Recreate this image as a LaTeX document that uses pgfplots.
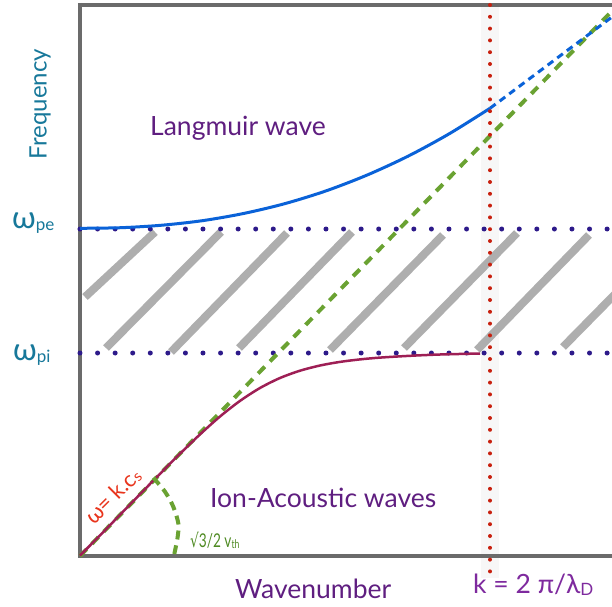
\documentclass[border=0pt]{standalone}
\usepackage{pgfplots}
\pgfplotsset{compat=1.18}
\usepackage{fontspec}
\setmainfont{Lato}
\newfontfamily\djv{DejaVu Sans}
\definecolor{framec}{HTML}{6B6B6B}
\definecolor{hatchc}{HTML}{AEAEAE}
\definecolor{navyd}{HTML}{2D1A8A}
\definecolor{bluec}{HTML}{0A62D8}
\definecolor{greenc}{HTML}{6AA232}
\definecolor{redc}{HTML}{9E1F55}
\definecolor{reddot}{HTML}{C8200E}
\definecolor{tealc}{HTML}{17789A}
\definecolor{purc}{HTML}{5F1E80}
\definecolor{violc}{HTML}{7E2A9E}
\definecolor{orangec}{HTML}{E8341C}
\definecolor{dgreen}{HTML}{4E8A22}
\begin{document}
\begin{tikzpicture}
\begin{axis}[at={(0pt,0pt)}, anchor=south west, scale only axis,
  width=532pt, height=551pt, xmin=0, xmax=532, ymin=0, ymax=551,
  hide axis, clip=false, no markers]
% faint glow around k = 2pi/lambda_D
\addplot[draw=none, fill=black, fill opacity=0.03] coordinates {(401,551)(419,551)(419,-22)(401,-22)} -- cycle;
% hatch strokes
\addplot[hatchc, line width=8pt] coordinates {(5,259)(75,324)};
\addplot[hatchc, line width=8pt] coordinates {(26,208)(141,324)};
\addplot[hatchc, line width=8pt] coordinates {(91,204)(207,323)};
\addplot[hatchc, line width=8pt] coordinates {(159,208)(272,324)};
\addplot[hatchc, line width=8pt] coordinates {(250,206)(363,321)};
\addplot[hatchc, line width=8pt] coordinates {(324,208)(437,323)};
\addplot[hatchc, line width=8pt] coordinates {(397,206)(509,321)};
\addplot[hatchc, line width=8pt] coordinates {(483,209)(545,272)};
% frame
\addplot[framec, line width=4pt] coordinates {(0,553)(0,-2)};
\addplot[framec, line width=4pt] coordinates {(-2,0)(540,0)};
\addplot[framec, line width=4pt] coordinates {(-2,551)(540,551)};
% dotted frequency levels
\addplot[navyd, line width=5pt, line cap=round, dash pattern=on 0pt off 17.57pt] coordinates {(0,327)(532,327)};
\addplot[navyd, line width=5pt, line cap=round, dash pattern=on 0pt off 17.57pt] coordinates {(0,203)(532,203)};
% green dashed asymptote
\addplot[greenc, line width=4pt, dash pattern=on 9.5pt off 7.5pt] coordinates {(0,0)(532,545)};
% Langmuir wave
\addplot[bluec, line width=3pt, smooth] coordinates {(0,327.7)(41,328.3)(82,330.8)(123,335.4)(164,342.6)(205,352.4)(246,365.1)(287,380.9)(328,399.8)(369,422.1)(410,447.7)};
\addplot[bluec, line width=3pt, dash pattern=on 7pt off 5pt] coordinates {(410,447.7)(532,539)};
% ion acoustic
\addplot[redc, line width=2.5pt, smooth] coordinates {(0,0.5)(20,20.6)(40,41.2)(60,61.8)(80,82.2)(100,102.3)(120,121.6)(140,139.5)(160,155.1)(180,168.0)(200,178.0)(220,185.3)(240,190.5)(260,194.1)(280,196.6)(300,198.4)(330,200.2)(360,201.5)(400,202.5)};
% angle arc
\addplot[greenc, line width=4pt, dash pattern=on 9pt off 6pt, smooth] coordinates {(73.3,78.3)(85,64.3)(93.3,49.3)(98.3,32.7)(97.7,19.3)(94.3,2)};
% k = 2pi/lambda_D
\addplot[reddot, line width=4pt, line cap=round, dash pattern=on 0pt off 11.8pt] coordinates {(410,551)(410,-18)};
% texts
\node[anchor=center, rotate=90, inner sep=0pt, text=tealc, font=\fontsize{24}{28}\selectfont] at (axis cs:-40,452) {Frequency};
\node[anchor=base west, inner sep=0pt, text=tealc] at (axis cs:-68,328) {{\fontsize{31}{31}\selectfont ω}\raisebox{-2pt}{\fontsize{17}{17}\selectfont pe}};
\node[anchor=base west, inner sep=0pt, text=tealc] at (axis cs:-67,196) {{\fontsize{31}{31}\selectfont ω}\raisebox{-2pt}{\fontsize{17}{17}\selectfont pi}};
\node[anchor=base west, inner sep=0pt, text=purc, font=\fontsize{26.5}{30}\selectfont] at (axis cs:70,420) {Langmuir wave};
\node[anchor=base west, inner sep=0pt, text=purc, font=\fontsize{26.5}{30}\selectfont] at (axis cs:130,49) {Ion-Acoustic waves};
\node[anchor=base west, inner sep=0pt, text=purc, font=\fontsize{26.5}{30}\selectfont] at (axis cs:155,-42) {Wavenumber};
\node[anchor=base west, inner sep=0pt, text=violc, font=\fontsize{26.5}{30}\selectfont] at (axis cs:393,-37) {k = 2 π/λ\raisebox{-2pt}{\fontsize{17}{17}\selectfont D}};
\node[anchor=center, rotate=45, inner sep=0pt, text=orangec, font=\fontsize{22}{26}\selectfont] at (axis cs:33,60) {ω= k.c\raisebox{-1pt}{\fontsize{15}{15}\selectfont s}};
\node[anchor=base west, inner sep=0pt, text=dgreen] at (axis cs:110,9) {\scalebox{0.72}[1]{\fontsize{19}{20}\selectfont{\djv √}3/2 v\raisebox{-1pt}{\fontsize{12}{12}\selectfont th}}};
\end{axis}
\pgfresetboundingbox
\path[use as bounding box] (-80pt,-50pt) rectangle (532pt,556pt);
\end{tikzpicture}
\end{document}
